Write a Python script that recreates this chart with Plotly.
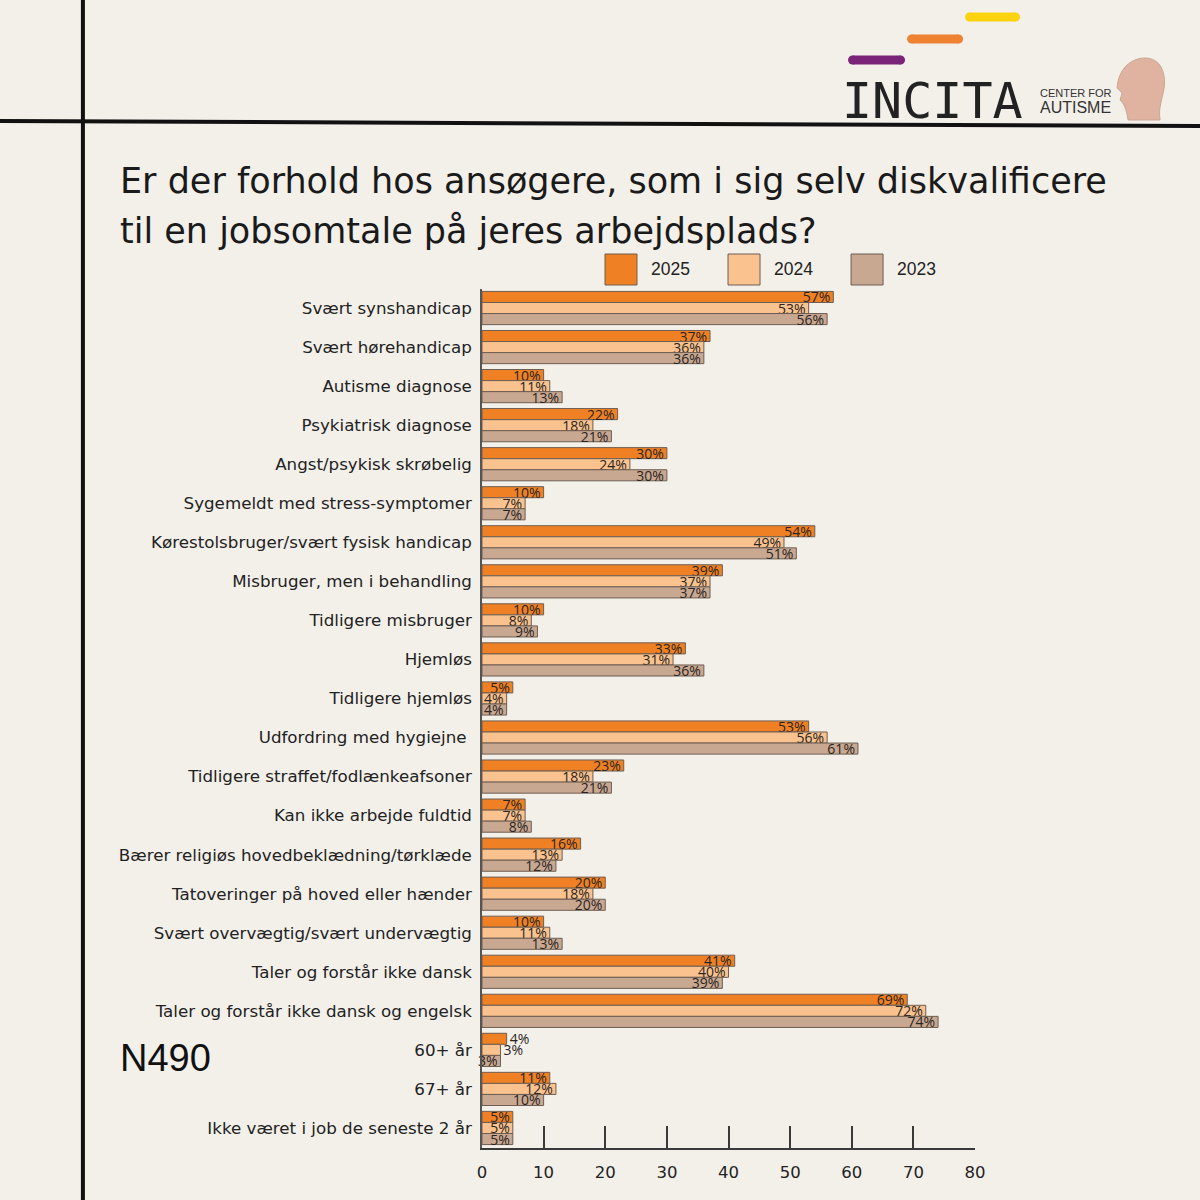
import plotly.graph_objects as go

categories = [
    "Svært synshandicap",
    "Svært hørehandicap",
    "Autisme diagnose",
    "Psykiatrisk diagnose",
    "Angst/psykisk skrøbelig",
    "Sygemeldt med stress-symptomer",
    "Kørestolsbruger/svært fysisk handicap",
    "Misbruger, men i behandling",
    "Tidligere misbruger",
    "Hjemløs",
    "Tidligere hjemløs",
    "Udfordring med hygiejne ",
    "Tidligere straffet/fodlænkeafsoner",
    "Kan ikke arbejde fuldtid",
    "Bærer religiøs hovedbeklædning/tørklæde",
    "Tatoveringer på hoved eller hænder",
    "Svært overvægtig/svært undervægtig",
    "Taler og forstår ikke dansk",
    "Taler og forstår ikke dansk og engelsk",
    "60+ år",
    "67+ år",
    "Ikke været i job de seneste 2 år",
]
values_2025 = [57, 37, 10, 22, 30, 10, 54, 39, 10, 33, 5, 53, 23, 7, 16, 20, 10, 41, 69, 4, 11, 5]
values_2024 = [53, 36, 11, 18, 24, 7, 49, 37, 8, 31, 4, 56, 18, 7, 13, 18, 11, 40, 72, 3, 12, 5]
values_2023 = [56, 36, 13, 21, 30, 7, 51, 37, 9, 36, 4, 61, 21, 8, 12, 20, 13, 39, 74, 3, 10, 5]
series_names = ["2025", "2024", "2023"]
x_ticks = [0, 10, 20, 30, 40, 50, 60, 70, 80]

colors = ["#EF8124", "#F9C28E", "#C9A891"]
edge = "#6E5E52"
BG = "#F3F0EA"
W = H = 1200
MAIN_FONT = "DejaVu Sans"

# horizontal screen mapping correction observed in the rendering pipeline
SX, OX = 0.9865, 5.1


def px(x):
    return (x - OX) / SX / W


def py(y):
    return 1 - y / H


fig = go.Figure()
for k, (name, vals, col) in enumerate(zip(series_names, [values_2025, values_2024, values_2023], colors)):
    positions = ["outside" if (c == "60+ år" and k < 2) else "inside" for c in categories]
    fig.add_trace(go.Bar(
        y=categories, x=vals, name=name, orientation="h",
        marker=dict(color=col, line=dict(color=edge, width=1)),
        texttemplate="%{x}%", textposition=positions, insidetextanchor="end",
        constraintext="none", cliponaxis=False,
        textfont=dict(family="Open Sans", size=14, color="#2A2522"),
        showlegend=False,
    ))

fig.update_layout(
    width=W, height=H,
    margin=dict(l=0, r=0, t=0, b=0),
    paper_bgcolor=BG, plot_bgcolor=BG,
    barmode="group", bargap=0.15, bargroupgap=0,
    xaxis=dict(
        domain=[px(482), px(975)], range=[0, 80], tickvals=x_ticks,
        showgrid=False, zeroline=False, showline=True, linecolor="#3A3A3A", linewidth=2,
        ticks="inside", ticklen=22, tickwidth=2, tickcolor="#3A3A3A",
        ticklabelstandoff=9,
        tickfont=dict(family=MAIN_FONT, size=16.5, color="#222"),
    ),
    yaxis=dict(
        domain=[py(1147.5), py(288.5)], autorange="reversed",
        showgrid=False, zeroline=False, showline=True, linecolor="#555", linewidth=1.5,
        ticks="", ticklabelstandoff=5,
        tickfont=dict(family=MAIN_FONT, size=16.7, color="#222"),
    ),
)

shapes = []
annotations = []

# frame lines
shapes.append(dict(type="line", xref="paper", yref="paper", x0=px(83), x1=px(83), y0=0, y1=1,
                   line=dict(color="#111", width=4)))
shapes.append(dict(type="line", xref="paper", yref="paper", x0=-0.01, x1=1.01, y0=py(121), y1=py(126),
                   line=dict(color="#111", width=4)))

# title
for line_text, yc in [("Er der forhold hos ansøgere, som i sig selv diskvalificere", 181),
                      ("til en jobsomtale på jeres arbejdsplads?", 231)]:
    annotations.append(dict(xref="paper", yref="paper", x=px(118.5), y=py(yc), xanchor="left", yanchor="middle",
                            text=line_text, showarrow=False,
                            font=dict(family=MAIN_FONT, size=35, color="#1A1A1A")))

# legend
for i, (name, col) in enumerate(zip(series_names, colors)):
    x0 = 605 + i * 123
    shapes.append(dict(type="rect", xref="paper", yref="paper", x0=px(x0), x1=px(x0 + 32),
                       y0=py(285), y1=py(254), fillcolor=col, line=dict(color=edge, width=1)))
    annotations.append(dict(xref="paper", yref="paper", x=px(x0 + 44), y=py(269), xanchor="left",
                            yanchor="middle", text=name, showarrow=False,
                            font=dict(family="Liberation Sans", size=17.5, color="#222")))

# N490
annotations.append(dict(xref="paper", yref="paper", x=px(118.5), y=py(1058), xanchor="left", yanchor="middle",
                        text="N490", showarrow=False,
                        font=dict(family="Liberation Sans", size=38, color="#111")))

# logo bars
for (x0, x1, yc, col) in [(965, 1020, 17, "#FDD20E"), (907, 963, 39, "#EE8230"), (848, 905, 60, "#7B2378")]:
    r = 4.5
    shapes.append(dict(type="rect", xref="paper", yref="paper", x0=px(x0 + r), x1=px(x1 - r),
                       y0=py(yc + r), y1=py(yc - r), fillcolor=col, line=dict(width=0)))
    for cx in (x0 + r, x1 - r):
        shapes.append(dict(type="circle", xref="paper", yref="paper", x0=px(cx - r), x1=px(cx + r),
                           y0=py(yc + r), y1=py(yc - r), fillcolor=col, line=dict(width=0)))

annotations.append(dict(xref="paper", yref="paper", x=px(840), y=py(101), xanchor="left", yanchor="middle",
                        text="INCITA", showarrow=False,
                        font=dict(family="DejaVu Sans Mono", size=50, color="#222")))
annotations.append(dict(xref="paper", yref="paper", x=px(1038), y=py(93), xanchor="left", yanchor="middle",
                        text="CENTER FOR", showarrow=False,
                        font=dict(family="Liberation Sans", size=11, color="#333")))
annotations.append(dict(xref="paper", yref="paper", x=px(1038), y=py(108), xanchor="left", yanchor="middle",
                        text="AUTISME", showarrow=False,
                        font=dict(family="Liberation Sans", size=16, color="#333")))


# head silhouette
def P(x, y):
    return f"{px(x)},{py(y)}"


path = (f"M {P(1128,120)} C {P(1126,108)} {P(1124,104)} {P(1120,100)} "
        f"L {P(1122,93)} L {P(1117,88)} C {P(1118,70)} {P(1130,58)} {P(1145,58)} "
        f"C {P(1160,58)} {P(1166,72)} {P(1164,88)} C {P(1162,100)} {P(1158,108)} {P(1160,120)} Z")
shapes.append(dict(type="path", xref="paper", yref="paper", path=path,
                   fillcolor="#E0B3A0", line=dict(color="#C9A891", width=1)))

fig.update_layout(shapes=shapes, annotations=annotations)
fig.write_html(
    "out.html",
    config={"displayModeBar": False, "responsive": False},
    post_script=("document.documentElement.style.margin='0';document.documentElement.style.padding='0';"
                 "document.documentElement.style.overflow='hidden';"
                 "document.body.style.margin='0';document.body.style.padding='0';"
                 "document.body.style.overflow='hidden';"),
)
